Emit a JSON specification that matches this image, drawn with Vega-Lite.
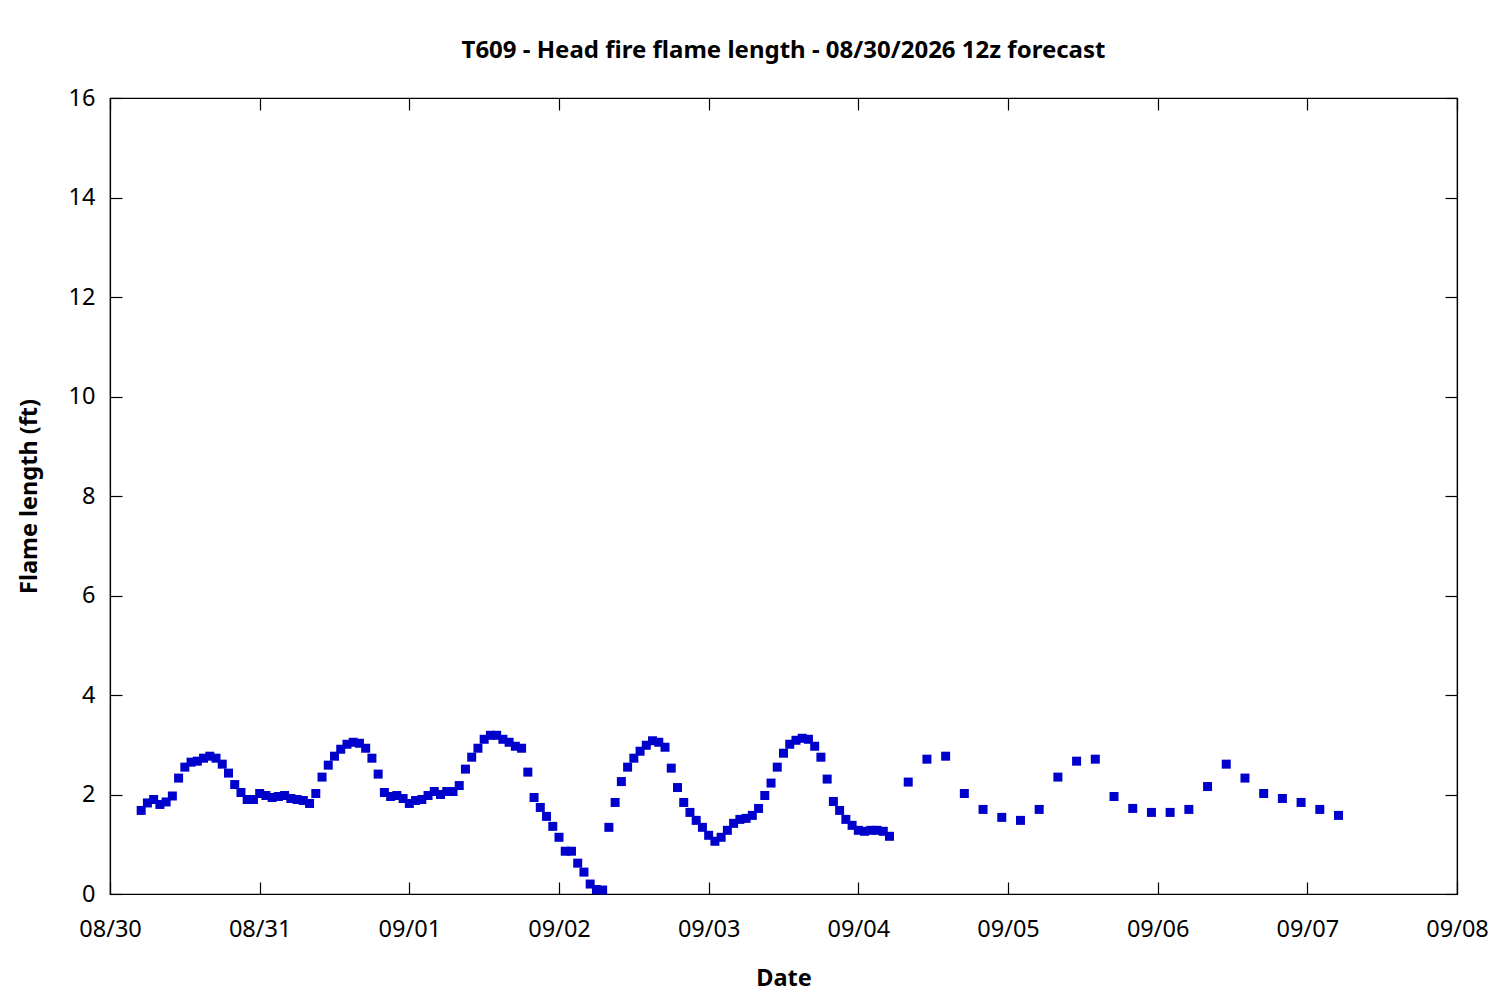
{
  "$schema": "https://vega.github.io/schema/vega-lite/v6.json",
  "autosize": {"type": "none"},
  "width": 1347,
  "height": 796,
  "padding": {"left": 110, "top": 98, "right": 43, "bottom": 106},
  "background": "white",
  "config": {
    "view": {"stroke": "black", "strokeWidth": 1.2},
    "font": "Noto Sans",
    "axis": {"grid": false, "domainColor": "black", "tickColor": "black", "labelColor": "black", "titleColor": "black", "labelFont": "Noto Sans", "titleFont": "Noto Sans", "labelFontSize": 23.5, "titleFontSize": 23.5, "titleFontWeight": "bold", "tickSize": -12, "tickWidth": 1.2, "domainWidth": 1.2}
  },
  "title": {"text": "T609 - Head fire flame length - 08/30/2026 12z forecast", "font": "Noto Sans", "fontSize": 24, "fontWeight": "bold", "color": "black", "anchor": "middle", "offset": 23},
  "data": {"values": [
    {"t":"2026-08-30T05:00","v":1.68},{"t":"2026-08-30T06:00","v":1.83},{"t":"2026-08-30T07:00","v":1.90},{"t":"2026-08-30T08:00","v":1.80},{"t":"2026-08-30T09:00","v":1.85},{"t":"2026-08-30T10:00","v":1.97},{"t":"2026-08-30T11:00","v":2.33},{"t":"2026-08-30T12:00","v":2.55},{"t":"2026-08-30T13:00","v":2.65},{"t":"2026-08-30T14:00","v":2.67},{"t":"2026-08-30T15:00","v":2.73},{"t":"2026-08-30T16:00","v":2.77},{"t":"2026-08-30T17:00","v":2.73},{"t":"2026-08-30T18:00","v":2.61},{"t":"2026-08-30T19:00","v":2.43},{"t":"2026-08-30T20:00","v":2.20},{"t":"2026-08-30T21:00","v":2.04},{"t":"2026-08-30T22:00","v":1.90},{"t":"2026-08-30T23:00","v":1.90},
    {"t":"2026-08-31T00:00","v":2.02},{"t":"2026-08-31T01:00","v":1.98},{"t":"2026-08-31T02:00","v":1.94},{"t":"2026-08-31T03:00","v":1.96},{"t":"2026-08-31T04:00","v":1.98},{"t":"2026-08-31T05:00","v":1.92},{"t":"2026-08-31T06:00","v":1.90},{"t":"2026-08-31T07:00","v":1.88},{"t":"2026-08-31T08:00","v":1.82},{"t":"2026-08-31T09:00","v":2.02},{"t":"2026-08-31T10:00","v":2.35},{"t":"2026-08-31T11:00","v":2.59},{"t":"2026-08-31T12:00","v":2.77},{"t":"2026-08-31T13:00","v":2.91},{"t":"2026-08-31T14:00","v":3.01},{"t":"2026-08-31T15:00","v":3.05},{"t":"2026-08-31T16:00","v":3.03},{"t":"2026-08-31T17:00","v":2.93},{"t":"2026-08-31T18:00","v":2.73},{"t":"2026-08-31T19:00","v":2.41},{"t":"2026-08-31T20:00","v":2.04},{"t":"2026-08-31T21:00","v":1.96},{"t":"2026-08-31T22:00","v":1.98},{"t":"2026-08-31T23:00","v":1.92},
    {"t":"2026-09-01T00:00","v":1.82},{"t":"2026-09-01T01:00","v":1.88},{"t":"2026-09-01T02:00","v":1.90},{"t":"2026-09-01T03:00","v":1.98},{"t":"2026-09-01T04:00","v":2.06},{"t":"2026-09-01T05:00","v":2.00},{"t":"2026-09-01T06:00","v":2.06},{"t":"2026-09-01T07:00","v":2.06},{"t":"2026-09-01T08:00","v":2.18},{"t":"2026-09-01T09:00","v":2.51},{"t":"2026-09-01T10:00","v":2.75},{"t":"2026-09-01T11:00","v":2.93},{"t":"2026-09-01T12:00","v":3.11},{"t":"2026-09-01T13:00","v":3.19},{"t":"2026-09-01T14:00","v":3.19},{"t":"2026-09-01T15:00","v":3.11},{"t":"2026-09-01T16:00","v":3.05},{"t":"2026-09-01T17:00","v":2.97},{"t":"2026-09-01T18:00","v":2.93},{"t":"2026-09-01T19:00","v":2.45},{"t":"2026-09-01T20:00","v":1.94},{"t":"2026-09-01T21:00","v":1.74},{"t":"2026-09-01T22:00","v":1.56},{"t":"2026-09-01T23:00","v":1.36},
    {"t":"2026-09-02T00:00","v":1.14},{"t":"2026-09-02T01:00","v":0.86},{"t":"2026-09-02T02:00","v":0.86},{"t":"2026-09-02T03:00","v":0.62},{"t":"2026-09-02T04:00","v":0.44},{"t":"2026-09-02T05:00","v":0.20},{"t":"2026-09-02T06:00","v":0.09},{"t":"2026-09-02T07:00","v":0.08},{"t":"2026-09-02T08:00","v":1.34},{"t":"2026-09-02T09:00","v":1.84},{"t":"2026-09-02T10:00","v":2.26},{"t":"2026-09-02T11:00","v":2.55},{"t":"2026-09-02T12:00","v":2.73},{"t":"2026-09-02T13:00","v":2.87},{"t":"2026-09-02T14:00","v":2.99},{"t":"2026-09-02T15:00","v":3.08},{"t":"2026-09-02T16:00","v":3.05},{"t":"2026-09-02T17:00","v":2.95},{"t":"2026-09-02T18:00","v":2.53},{"t":"2026-09-02T19:00","v":2.14},{"t":"2026-09-02T20:00","v":1.84},{"t":"2026-09-02T21:00","v":1.64},{"t":"2026-09-02T22:00","v":1.48},{"t":"2026-09-02T23:00","v":1.34},
    {"t":"2026-09-03T00:00","v":1.18},{"t":"2026-09-03T01:00","v":1.06},{"t":"2026-09-03T02:00","v":1.14},{"t":"2026-09-03T03:00","v":1.28},{"t":"2026-09-03T04:00","v":1.42},{"t":"2026-09-03T05:00","v":1.50},{"t":"2026-09-03T06:00","v":1.52},{"t":"2026-09-03T07:00","v":1.58},{"t":"2026-09-03T08:00","v":1.72},{"t":"2026-09-03T09:00","v":1.98},{"t":"2026-09-03T10:00","v":2.23},{"t":"2026-09-03T11:00","v":2.55},{"t":"2026-09-03T12:00","v":2.83},{"t":"2026-09-03T13:00","v":3.01},{"t":"2026-09-03T14:00","v":3.09},{"t":"2026-09-03T15:00","v":3.13},{"t":"2026-09-03T16:00","v":3.11},{"t":"2026-09-03T17:00","v":2.97},{"t":"2026-09-03T18:00","v":2.75},{"t":"2026-09-03T19:00","v":2.31},{"t":"2026-09-03T20:00","v":1.86},{"t":"2026-09-03T21:00","v":1.68},{"t":"2026-09-03T22:00","v":1.50},{"t":"2026-09-03T23:00","v":1.38},
    {"t":"2026-09-04T00:00","v":1.28},{"t":"2026-09-04T01:00","v":1.26},{"t":"2026-09-04T02:00","v":1.28},{"t":"2026-09-04T03:00","v":1.28},{"t":"2026-09-04T04:00","v":1.26},{"t":"2026-09-04T05:00","v":1.16},{"t":"2026-09-04T08:00","v":2.25},{"t":"2026-09-04T11:00","v":2.71},{"t":"2026-09-04T14:00","v":2.77},{"t":"2026-09-04T17:00","v":2.02},{"t":"2026-09-04T20:00","v":1.70},{"t":"2026-09-04T23:00","v":1.54},
    {"t":"2026-09-05T02:00","v":1.48},{"t":"2026-09-05T05:00","v":1.70},{"t":"2026-09-05T08:00","v":2.35},{"t":"2026-09-05T11:00","v":2.67},{"t":"2026-09-05T14:00","v":2.71},{"t":"2026-09-05T17:00","v":1.96},{"t":"2026-09-05T20:00","v":1.72},{"t":"2026-09-05T23:00","v":1.64},
    {"t":"2026-09-06T02:00","v":1.64},{"t":"2026-09-06T05:00","v":1.70},{"t":"2026-09-06T08:00","v":2.16},{"t":"2026-09-06T11:00","v":2.61},{"t":"2026-09-06T14:00","v":2.33},{"t":"2026-09-06T17:00","v":2.02},{"t":"2026-09-06T20:00","v":1.92},{"t":"2026-09-06T23:00","v":1.84},
    {"t":"2026-09-07T02:00","v":1.70},{"t":"2026-09-07T05:00","v":1.58}
  ]},
  "layer": [
    {
      "mark": {"type": "point", "shape": "square", "filled": true, "size": 81, "color": "#0000CC", "opacity": 1},
      "encoding": {
        "x": {"field": "t", "type": "temporal", "title": "Date",
              "scale": {"domain": [{"year": 2026, "month": 8, "date": 30, "hours": 0}, {"year": 2026, "month": 9, "date": 8, "hours": 0}], "nice": false},
              "axis": {"orient": "bottom", "format": "%m/%d", "tickCount": {"interval": "day", "step": 1}, "labelPadding": 35, "titlePadding": 26, "labelFlush": false, "labelOverlap": false}},
        "y": {"field": "v", "type": "quantitative", "title": "Flame length (ft)",
              "scale": {"domain": [0, 16], "nice": false, "zero": true},
              "axis": {"orient": "left", "values": [0, 2, 4, 6, 8, 10, 12, 14, 16], "labelPadding": 27, "titlePadding": 27, "labelFlush": false}}
      }
    },
    {
      "mark": {"type": "point", "opacity": 0},
      "encoding": {
        "x": {"field": "t", "type": "temporal",
              "scale": {"domain": [{"year": 2026, "month": 8, "date": 30, "hours": 0}, {"year": 2026, "month": 9, "date": 8, "hours": 0}], "nice": false},
              "axis": {"orient": "top", "title": null, "labels": false, "tickCount": {"interval": "day", "step": 1}}},
        "y": {"field": "v", "type": "quantitative",
              "scale": {"domain": [0, 16], "nice": false, "zero": true},
              "axis": {"orient": "right", "title": null, "labels": false, "values": [0, 2, 4, 6, 8, 10, 12, 14, 16]}}
      }
    }
  ],
  "resolve": {"axis": {"x": "independent", "y": "independent"}}
}
